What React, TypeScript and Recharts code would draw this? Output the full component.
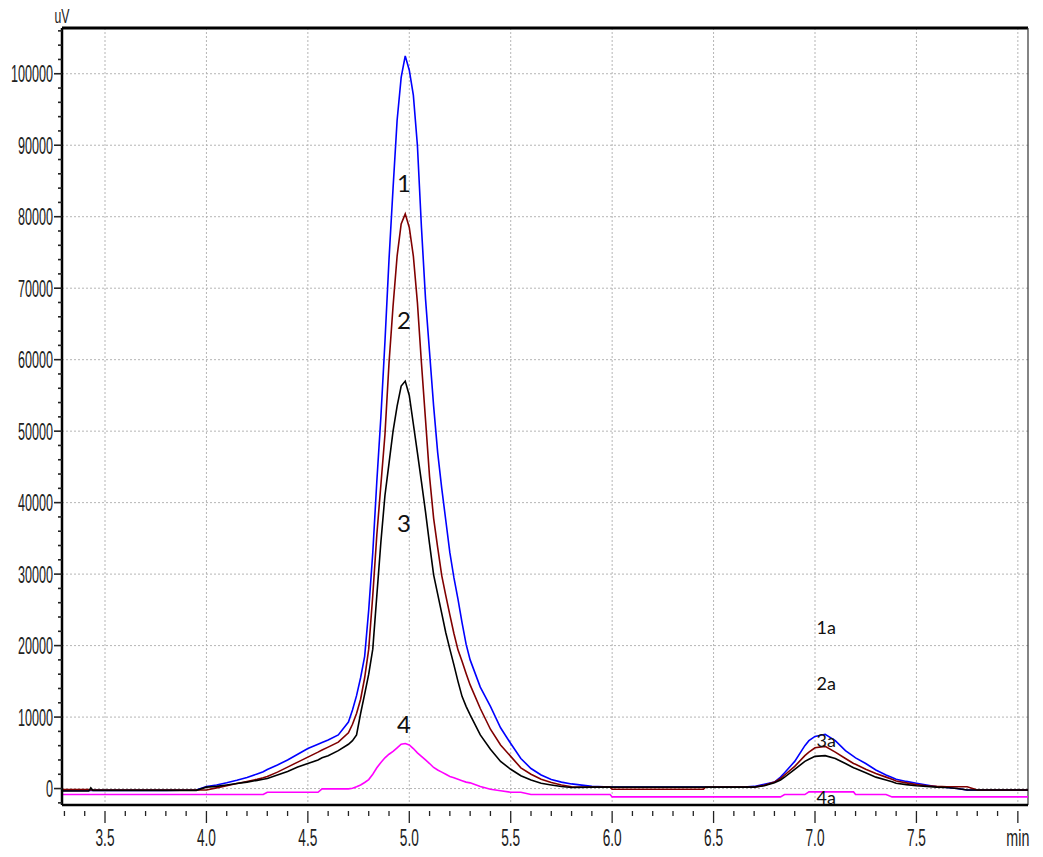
import React from "react"
import {
  LineChart,
  Line,
  XAxis,
  YAxis,
  CartesianGrid,
  ReferenceLine,
  ReferenceDot,
} from "recharts"

// retention time (min)
const times = [
  3.29, 3.42, 3.43, 3.44, 3.6, 3.8, 3.95, 4.0, 4.05, 4.1,
  4.15, 4.2, 4.25, 4.28, 4.3, 4.35, 4.4, 4.45, 4.5, 4.55,
  4.57, 4.6, 4.65, 4.7, 4.72, 4.74, 4.76, 4.78, 4.8, 4.82,
  4.84, 4.86, 4.88, 4.9, 4.92, 4.94, 4.96, 4.98, 5.0, 5.02,
  5.04, 5.06, 5.08, 5.1, 5.12, 5.14, 5.16, 5.18, 5.2, 5.22,
  5.24, 5.26, 5.28, 5.3, 5.35, 5.4, 5.45, 5.5, 5.55, 5.6,
  5.65, 5.7, 5.75, 5.8, 5.9, 5.99, 6.0, 6.45, 6.46, 6.6,
  6.65, 6.7, 6.75, 6.8, 6.83, 6.85, 6.9, 6.95, 6.97, 7.0,
  7.05, 7.1, 7.15, 7.19, 7.2, 7.25, 7.3, 7.35, 7.38, 7.4,
  7.45, 7.5, 7.55, 7.6, 7.65, 7.7, 7.75, 7.8, 8.05,
]

// signal (uV) per trace
const trace1 = [
  -250, -250, -250, -250, -250, -250, -200, 300, 500, 800,
  1150, 1550, 2050, 2350, 2660, 3300, 4000, 4800, 5600, 6200,
  6450, 6800, 7500, 9300, 11000, 13000, 15500, 18500, 25000, 33000,
  43000, 52000, 62500, 74000, 84000, 93500, 99500, 102500, 100500, 97000,
  90000, 78500, 68500, 61000, 53500, 47000, 42000, 37500, 33000, 29500,
  26500, 23200, 20200, 18000, 14200, 11500, 8500, 6300, 4200, 2800,
  1900, 1260, 900, 650, 300, 200, 200, 200, 200, 200,
  200, 300, 600, 900, 1600, 2200, 3800, 6000, 6700, 7300,
  7600, 6700, 5300, 4500, 4300, 3500, 2600, 1900, 1550, 1300,
  1000, 750, 500, 250, 150, 0, -200, -200, -200,
]

const trace2 = [
  -150, -150, -200, -200, -200, -200, -200, -200, 100, 400,
  700, 1000, 1300, 1500, 1700, 2300, 3000, 3700, 4400, 5100,
  5400, 5800, 6500, 7800, 9000, 10500, 12500, 15500, 19500, 27000,
  35500, 42500, 49500, 59500, 67500, 74500, 79000, 80400, 78500, 74500,
  68000, 59500, 51600, 43600, 37800, 33700, 29800, 27000, 24300, 21700,
  19400, 17800, 16100, 14500, 11200, 8300, 6100, 4500, 2900, 2000,
  1300, 840, 500, 250, 200, 200, -100, -100, 200, 200,
  200, 200, 450, 900, 1400, 1900, 3100, 4600, 5100, 5700,
  5900, 5100, 4200, 3500, 3400, 2700, 2100, 1600, 1300, 1050,
  800, 550, 400, 300, 250, 250, 250, -200, -200,
]

const trace3 = [
  -350, -350, 100, -250, -250, -250, -250, 200, 300, 500,
  700, 900, 1150, 1300, 1400, 1900, 2400, 3000, 3500, 4000,
  4300, 4600, 5300, 6200, 6700, 7500, 10500, 13200, 16000, 19500,
  27000, 34500, 41000, 45500, 50000, 53500, 56300, 57000, 55000, 51000,
  47000, 42900, 38700, 34200, 29900, 27200, 24500, 21800, 19500, 17300,
  15000, 12900, 11500, 10300, 7500, 5500, 3800, 2700, 1800, 1200,
  750, 500, 280, 150, 200, 200, 200, 200, 200, 200,
  200, 200, 400, 800, 1200, 1600, 2700, 3800, 4100, 4500,
  4600, 4200, 3500, 2900, 2800, 2200, 1600, 1200, 950, 750,
  550, 400, 300, 200, 150, 0, -200, -200, -200,
]

const trace4 = [
  -840, -840, -840, -840, -840, -840, -840, -840, -840, -840,
  -840, -840, -840, -840, -520, -520, -520, -520, -520, -520,
  -40, -40, -40, -40, 50, 250, 500, 850, 1260, 2000,
  2900, 3650, 4300, 4800, 5200, 5700, 6200, 6300, 6100, 5600,
  5000, 4500, 4000, 3500, 2950, 2600, 2300, 2000, 1700, 1500,
  1300, 1100, 900, 800, 300, -100, -300, -520, -520, -840,
  -840, -840, -840, -840, -840, -840, -1170, -1170, -1170, -1170,
  -1170, -1170, -1170, -1170, -1170, -840, -840, -840, -470, -470,
  -470, -470, -470, -470, -840, -840, -840, -840, -1170, -1170,
  -1170, -1170, -1170, -1170, -1170, -1170, -1170, -1170, -1170,
]

const xMajorTicks = [3.5, 4.0, 4.5, 5.0, 5.5, 6.0, 6.5, 7.0, 7.5, 8.0]
const xMajorLabels = ["3.5", "4.0", "4.5", "5.0", "5.5", "6.0", "6.5", "7.0", "7.5", "min"]
const yMajorTicks = [0, 10000, 20000, 30000, 40000, 50000, 60000, 70000, 80000, 90000, 100000]

// peak annotations (min, uV)
const peakNames = ["1", "2", "3", "4", "1a", "2a", "3a", "4a"]
const peakX = [4.974, 4.974, 4.974, 4.974, 7.055, 7.055, 7.055, 7.055]
const peakY = [84700, 65500, 37100, 8900, 22450, 14620, 6640, -1330]

const data = times.map((t, i) => ({
  t,
  s1: trace1[i],
  s2: trace2[i],
  s3: trace3[i],
  s4: trace4[i],
}))

const xMinorTicks: number[] = []
for (let i = 33; i <= 80; i++) xMinorTicks.push(i / 10)
const yMinorTicks: number[] = []
for (let v = -2000; v <= 106000; v += 2000) yMinorTicks.push(v)

const axisFont = "'Liberation Sans', Arial, sans-serif"

const XTick = (props: any) => {
  const { x, y, payload } = props
  const idx = xMajorTicks.findIndex((m) => Math.abs(m - payload.value) < 1e-6)
  const major = idx >= 0
  const label = major ? xMajorLabels[idx] : ""
  return (
    <g>
      <line x1={x} x2={x} y1={y + 6} y2={y + (major ? 18 : 11)} stroke="#222" strokeWidth={1.3} />
      {major && (
        <text
          x={x}
          y={y + 41}
          textAnchor="middle"
          fontSize={24}
          fontFamily={axisFont}
          fill="#222"
          textLength={label === "min" ? 23 : 19}
          lengthAdjust="spacingAndGlyphs"
        >
          {label}
        </text>
      )}
    </g>
  )
}

const YTick = (props: any) => {
  const { x, y, payload } = props
  const major = yMajorTicks.includes(payload.value)
  const label = String(payload.value)
  return (
    <g>
      <line x1={x - (major ? 8 : 4)} x2={x} y1={y} y2={y} stroke="#222" strokeWidth={1.6} />
      {major && (
        <text
          x={x - 9}
          y={y + 8.5}
          textAnchor="end"
          fontSize={24}
          fontFamily={axisFont}
          fill="#222"
          textLength={label.length * 7}
          lengthAdjust="spacingAndGlyphs"
        >
          {label}
        </text>
      )}
    </g>
  )
}

export default function App() {
  return (
    <div style={{ position: "absolute", left: 0, top: 0, width: 1043, height: 857, background: "#fff" }}>
      <svg width={1043} height={857} style={{ position: "absolute", left: 0, top: 0 }}>
        <text
          x={62}
          y={23}
          textAnchor="middle"
          fontSize={21}
          fontFamily={axisFont}
          fill="#222"
          textLength={15}
          lengthAdjust="spacingAndGlyphs"
        >
          uV
        </text>
      </svg>
      <div style={{ position: "absolute", left: 0, top: 0 }}>
        <LineChart
          width={1043}
          height={857}
          data={data}
          margin={{ top: 28, right: 15, bottom: 0, left: 0 }}
        >
          <CartesianGrid
            stroke="#b5b5b5"
            strokeDasharray="2 2"
            horizontalValues={yMajorTicks}
            verticalValues={xMajorTicks}
          />
          <XAxis
            dataKey="t"
            type="number"
            domain={[3.288, 8.05]}
            ticks={xMinorTicks}
            tick={<XTick />}
            tickLine={false}
            tickSize={0}
            tickMargin={0}
            height={52}
            interval={0}
            axisLine={{ stroke: "#000", strokeWidth: 2.5 }}
          />
          <YAxis
            type="number"
            domain={[-2300, 106400]}
            ticks={yMinorTicks}
            tick={<YTick />}
            tickLine={false}
            tickSize={0}
            tickMargin={0}
            width={62}
            interval={0}
            axisLine={{ stroke: "#000", strokeWidth: 2.5 }}
          />
          <ReferenceLine y={106400} stroke="#000" strokeWidth={3} />
          <ReferenceLine x={8.05} stroke="#333" strokeWidth={1.2} />
          <Line type="linear" dataKey="s1" stroke="#0000ff" strokeWidth={1.6} dot={false} isAnimationActive={false} />
          <Line type="linear" dataKey="s2" stroke="#800000" strokeWidth={1.6} dot={false} isAnimationActive={false} />
          <Line type="linear" dataKey="s3" stroke="#000000" strokeWidth={1.6} dot={false} isAnimationActive={false} />
          <Line type="linear" dataKey="s4" stroke="#ff00ff" strokeWidth={1.6} dot={false} isAnimationActive={false} />
          {peakNames.map((name, i) => (
            <ReferenceDot
              key={name}
              x={peakX[i]}
              y={peakY[i]}
              r={0}
              stroke="none"
              fill="none"
              label={{
                value: name,
                position: "center",
                fontSize: name.length > 1 ? 18 : 24,
                fill: "#111",
                fontFamily: "Lato, 'Open Sans', sans-serif",
              }}
            />
          ))}
        </LineChart>
      </div>
    </div>
  )
}
